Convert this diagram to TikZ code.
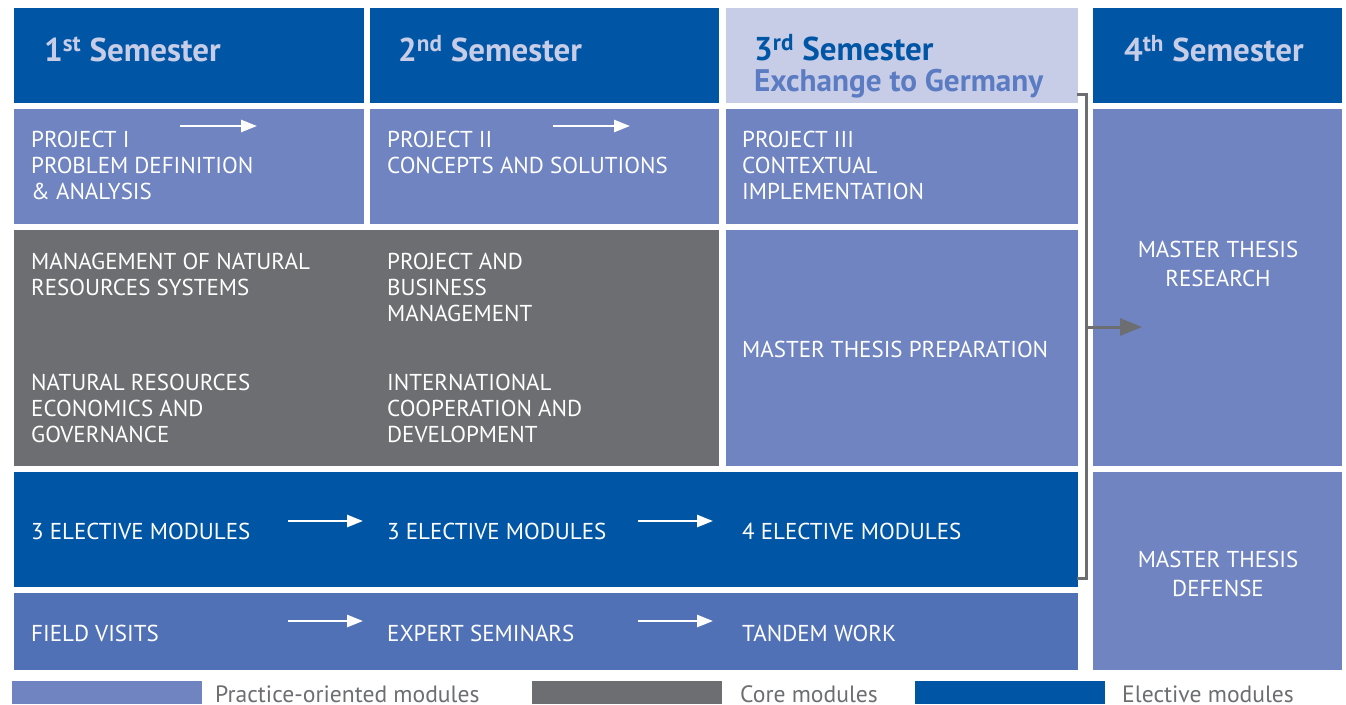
\documentclass[tikz,border=0pt]{standalone}
\usepackage{fontspec}
\setmainfont{PT Sans}
\usetikzlibrary{arrows.meta}
\definecolor{dblue}{HTML}{0055A5}
\definecolor{hlight}{HTML}{C7CCE7}
\definecolor{practice}{HTML}{6F84C1}
\definecolor{coregrey}{HTML}{6D6E71}
\definecolor{fieldblue}{HTML}{5171B7}
\definecolor{exch}{HTML}{5B7BC2}
\tikzset{
  cell/.style={anchor=north west, inner sep=0pt, outer sep=0pt, draw=none},
  lbl/.style={anchor=base west, inner sep=0pt, text=white, align=left, font=\fontsize{23}{26}\selectfont},
  clbl/.style={anchor=base, inner sep=0pt, text=white, align=center, font=\fontsize{23}{29}\selectfont},
  hlbl/.style={anchor=base west, inner sep=0pt, text=hlight, font=\fontsize{33}{35}\selectfont\bfseries},
  leg/.style={anchor=base west, inner sep=0pt, text=coregrey, font=\fontsize{23.6}{26}\selectfont},
  warrow/.style={draw=white, line width=2.6pt, -{Triangle[length=16pt,width=12pt]}},
  garrow/.style={draw=coregrey, line width=3pt, -{Triangle[length=22pt,width=17pt]}},
  bracket/.style={draw=coregrey, line width=3pt}
}
\newcommand{\cellbox}[6]{\node[cell, fill=#6, minimum width=#4pt, minimum height=#5pt] (#1) at (#2,#3) {};}
\begin{document}
\begin{tikzpicture}[x=1pt,y=-1pt]
\useasboundingbox (0,0) rectangle (1346,704);
\fill[white] (0,0) rectangle (1346,704);
% headers
\cellbox{h1}{14}{8}{350}{95}{dblue}
\cellbox{h2}{370}{8}{349}{95}{dblue}
\cellbox{h3}{726}{8}{352}{95}{hlight}
\cellbox{h4}{1093}{8}{249}{95}{dblue}
% projects
\cellbox{p1}{14}{109}{350}{115}{practice}
\cellbox{p2}{370}{109}{349}{115}{practice}
\cellbox{p3}{726}{109}{352}{115}{practice}
% core
\cellbox{core}{14}{230}{705}{236}{coregrey}
\cellbox{prep}{726}{230}{352}{236}{practice}
% elective
\cellbox{elec}{14}{472}{1064}{115}{dblue}
% field
\cellbox{field}{14}{593}{1064}{77}{fieldblue}
% 4th semester
\cellbox{res}{1093}{109}{249}{357}{practice}
\cellbox{def}{1093}{472}{249}{198}{practice}
% legend
\cellbox{lg1}{12}{681}{190}{23}{practice}
\cellbox{lg2}{532}{681}{190}{23}{coregrey}
\cellbox{lg3}{915}{681}{190}{23}{dblue}
\node[leg] (lt1) at (215,702) {Practice-oriented modules};
\node[leg] (lt2) at (740,702) {Core modules};
\node[leg] (lt3) at (1122,702) {Elective modules};
% header texts
\node[hlbl] (t1) at (44,61) {1\textsuperscript{st} Semester};
\node[hlbl] (t2) at (398,61) {2\textsuperscript{nd} Semester};
\node[hlbl, text=dblue] (t3) at (754,60) {3\textsuperscript{rd} Semester};
\node[hlbl, text=exch, font=\fontsize{31.2}{34}\selectfont\bfseries] (t3b) at (754,91) {Exchange to Germany};
\node[hlbl] (t4) at (1124,61) {4\textsuperscript{th} Semester};
% project texts (anchor = baseline of last line)
\node[lbl] (tp1) at (31,199) {PROJECT I\\PROBLEM DEFINITION\\\& ANALYSIS};
\node[lbl] (tp2) at (387,173) {PROJECT II\\CONCEPTS AND SOLUTIONS};
\node[lbl] (tp3) at (742,199) {PROJECT III\\CONTEXTUAL\\IMPLEMENTATION};
% core texts
\node[lbl] (tc1) at (31,295) {MANAGEMENT OF NATURAL\\RESOURCES SYSTEMS};
\node[lbl] (tc2) at (387,321) {PROJECT AND\\BUSINESS\\MANAGEMENT};
\node[lbl] (tc3) at (31,442) {NATURAL RESOURCES\\ECONOMICS AND\\GOVERNANCE};
\node[lbl] (tc4) at (387,442) {INTERNATIONAL\\COOPERATION AND\\DEVELOPMENT};
\node[lbl] (tmp) at (742,357) {MASTER THESIS PREPARATION};
% elective texts
\node[lbl] (te1) at (31,539) {3 ELECTIVE MODULES};
\node[lbl] (te2) at (387,539) {3 ELECTIVE MODULES};
\node[lbl] (te3) at (742,539) {4 ELECTIVE MODULES};
% field texts
\node[lbl] (tf1) at (31,641) {FIELD VISITS};
\node[lbl] (tf2) at (387,641) {EXPERT SEMINARS};
\node[lbl] (tf3) at (742,641) {TANDEM WORK};
% 4th texts
\node[clbl] (tr) at (1218,286) {MASTER THESIS\\RESEARCH};
\node[clbl] (td) at (1218,596) {MASTER THESIS\\DEFENSE};
% white arrows
\coordinate (ap1s) at (180,126); \coordinate (ap1e) at (257,126);
\coordinate (ap2s) at (553,126); \coordinate (ap2e) at (630,126);
\coordinate (ae1s) at (288,521); \coordinate (ae1e) at (363,521);
\coordinate (ae2s) at (638,521); \coordinate (ae2e) at (713,521);
\coordinate (af1s) at (288,621); \coordinate (af1e) at (363,621);
\coordinate (af2s) at (638,621); \coordinate (af2e) at (713,621);
\draw[warrow] (ap1s) -- (ap1e);
\draw[warrow] (ap2s) -- (ap2e);
\draw[warrow] (ae1s) -- (ae1e);
\draw[warrow] (ae2s) -- (ae2e);
\draw[warrow] (af1s) -- (af1e);
\draw[warrow] (af2s) -- (af2e);
% bracket
\coordinate (bt) at (1077,94);
\coordinate (bb) at (1077,578);
\coordinate (bm) at (1086,327);
\coordinate (be) at (1142,327);
\draw[bracket] (bt) -| (1086,578) -- (bb);
\draw[garrow] (bm) -- (be);
\end{tikzpicture}
\end{document}
